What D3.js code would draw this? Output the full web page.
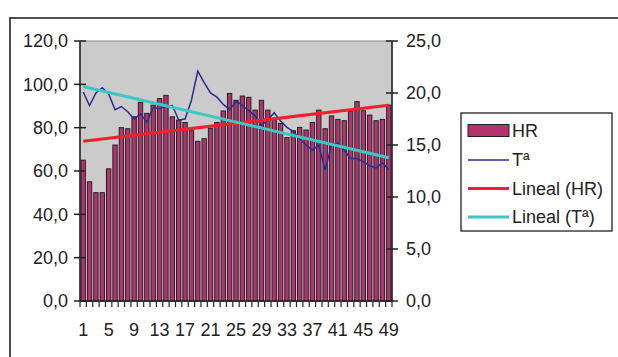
<!DOCTYPE html>
<html><head><meta charset="utf-8">
<script src="https://cdn.jsdelivr.net/npm/d3@7/dist/d3.min.js"></script>
<style>body{margin:0;background:#fff}svg{display:block}text{font-family:"Liberation Sans",Arial,sans-serif;fill:#222}</style>
</head><body><svg id="c" width="618" height="357"></svg>
<script>
const categories = d3.range(1, 50);
const hr = [65,55,50,50,61,72,80,79.5,85,91.7,86.6,90.4,93.4,94.9,85,83.5,82.4,78.6,73.7,74.9,79.7,82.4,87.7,95.8,92.6,94.6,94,88.1,92.6,88.1,83.8,82,75.4,78.6,80.1,78.9,82.4,88.1,79.5,85.4,83.8,83.2,87.6,92,87.8,85.8,83.2,83.8,90.4];
const temp = [20.1,18.8,20.0,20.5,19.9,18.4,18.7,18.2,17.5,18.0,17.2,18.6,18.5,18.7,18.8,17.4,17.5,19.3,22.1,21.0,20.0,19.6,18.9,18.4,19.2,18.8,18.3,17.8,16.9,17.4,18.1,17.3,16.7,16.3,15.6,15.0,14.5,15.0,12.6,15.0,15.2,14.5,13.7,13.7,13.4,13.0,12.8,13.3,12.6];
const leftTicks = [0,20,40,60,80,100,120];
const rightTicks = [0,5,10,15,20,25];
const xLabels = [1,5,9,13,17,21,25,29,33,37,41,45,49];
const legendItems = ["HR","Tª","Lineal (HR)","Lineal (Tª)"];

const svg = d3.select("#c");
const L=80, R=392, T=41, B=301;
const x = d3.scaleBand().domain(categories).range([L,R]).paddingInner(0.32).paddingOuter(0.16);
const yL = d3.scaleLinear().domain([0,120]).range([B,T]);
const yR = d3.scaleLinear().domain([0,25]).range([B,T]);
const fmt = v => d3.format(".1f")(v).replace(".", ",");
const cx = c => x(c) + x.bandwidth()/2;

// outer chart border
svg.append("rect").attr("x",10).attr("y",18).attr("width",700).attr("height",500).attr("fill","#fff").attr("stroke","#222").attr("stroke-width",1.6);

// plot area
svg.append("rect").attr("x",L).attr("y",T).attr("width",R-L).attr("height",B-T).attr("fill","#cbcbcb").attr("stroke","#8a8a8a").attr("stroke-width",1);

// bars
svg.append("g").selectAll("rect").data(categories).join("rect")
  .attr("x", c => x(c)).attr("width", x.bandwidth())
  .attr("y", (c,i) => yL(hr[i])).attr("height", (c,i) => B - yL(hr[i]))
  .attr("fill","#b4336f").attr("stroke","#222").attr("stroke-width",1);

// temperature line
svg.append("path").datum(temp)
  .attr("d", d3.line().x((d,i)=>cx(categories[i])).y(d=>yR(d)))
  .attr("fill","none").attr("stroke","#2b2b96").attr("stroke-width",1.5);

// linear trends
function regress(vals){
  const n=vals.length, xs=d3.range(1,n+1);
  const mx=d3.mean(xs), my=d3.mean(vals);
  const b=d3.sum(xs,(v,i)=>(v-mx)*(vals[i]-my))/d3.sum(xs,v=>(v-mx)*(v-mx));
  return k => my + b*(k-mx);
}
const fHR = regress(hr), fT = regress(temp);
const c0 = categories[0], c1 = categories[categories.length-1];
svg.append("line").attr("x1",cx(c0)).attr("x2",cx(c1)).attr("y1",yL(fHR(c0))).attr("y2",yL(fHR(c1)))
  .attr("stroke","#ee2229").attr("stroke-width",3);
svg.append("line").attr("x1",cx(c0)).attr("x2",cx(c1)).attr("y1",yR(fT(c0))).attr("y2",yR(fT(c1)))
  .attr("stroke","#3cc8c4").attr("stroke-width",3);

// axes
const ax = svg.append("g").attr("stroke","#222").attr("stroke-width",1.5);
ax.append("line").attr("x1",L).attr("x2",L).attr("y1",T).attr("y2",B);
ax.append("line").attr("x1",R).attr("x2",R).attr("y1",T).attr("y2",B);
ax.append("line").attr("x1",L).attr("x2",R).attr("y1",B).attr("y2",B);
ax.selectAll(".lt").data(leftTicks).join("line").attr("x1",L-6).attr("x2",L+6).attr("y1",d=>yL(d)).attr("y2",d=>yL(d));
ax.selectAll(".rt").data(rightTicks).join("line").attr("class","rt").attr("x1",R-6).attr("x2",R+6).attr("y1",d=>yR(d)).attr("y2",d=>yR(d));
const bounds = categories.map(c=>x(c)-x.step()*x.paddingInner()/2).concat([R]);
ax.selectAll(".xt").data(bounds).join("line").attr("class","xt").attr("x1",d=>d).attr("x2",d=>d).attr("y1",B).attr("y2",B+6).attr("stroke-width",1.2);

svg.append("g").selectAll("text").data(leftTicks).join("text")
  .attr("x",68).attr("y",d=>yL(d)).attr("dy","0.36em").attr("text-anchor","end").attr("font-size",18).text(fmt);
svg.append("g").selectAll("text").data(rightTicks).join("text")
  .attr("x",406).attr("y",d=>yR(d)).attr("dy","0.36em").attr("text-anchor","start").attr("font-size",18).text(fmt);
svg.append("g").selectAll("text").data(xLabels).join("text")
  .attr("x",d=>cx(d)).attr("y",336).attr("text-anchor","middle").attr("font-size",18).text(d=>d);

// legend
const lg = svg.append("g");
lg.append("rect").attr("x",461).attr("y",113).attr("width",151).attr("height",118).attr("fill","#fff").attr("stroke","#222").attr("stroke-width",1.3);
const ly = [130.5,160,188.5,217];
lg.append("rect").attr("x",468).attr("y",124.5).attr("width",41).attr("height",12).attr("fill","#b4336f").attr("stroke","#222").attr("stroke-width",1);
lg.append("line").attr("x1",468).attr("x2",509).attr("y1",ly[1]).attr("y2",ly[1]).attr("stroke","#2b2b96").attr("stroke-width",1.5);
lg.append("line").attr("x1",468).attr("x2",509).attr("y1",ly[2]).attr("y2",ly[2]).attr("stroke","#ee2229").attr("stroke-width",3);
lg.append("line").attr("x1",468).attr("x2",509).attr("y1",ly[3]).attr("y2",ly[3]).attr("stroke","#3cc8c4").attr("stroke-width",3);
lg.selectAll("text").data(legendItems).join("text").attr("x",512).attr("y",(d,i)=>ly[i]).attr("dy","0.36em").attr("font-size",18).text(d=>d);
</script></body></html>
